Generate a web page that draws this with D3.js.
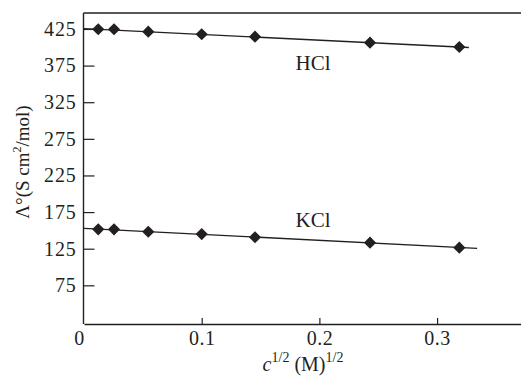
<!DOCTYPE html>
<html>
<head>
<meta charset="utf-8">
<script src="https://cdn.jsdelivr.net/npm/d3@7"></script>
<style>
	html, body { margin: 0; padding: 0; background: #fff; }
	svg { display: block; }
	text { font-family: "Liberation Serif", "Times New Roman", serif; fill: #231f20; }
</style>
</head>
<body>
<svg id="chart" width="521" height="378"></svg>
<script>
// square root of concentration, (M)^1/2
var aSqrtC = [0.0121, 0.0255, 0.0546, 0.1, 0.1453, 0.243, 0.3189];
// molar conductivity, S cm2/mol
var aHCl = [424.6, 424.6, 421.3, 417.8, 414.5, 406.3, 400.4];
var aKCl = [151.5, 151.5, 148.2, 145.0, 140.6, 133.2, 126.4];

// straight lines drawn through each series
var aHClFitX = [0, 0.327], aHClFitY = [425.5, 399.6];
var aKClFitX = [0, 0.334], aKClFitY = [152.8, 125.5];

var aXTicks = [0, 0.1, 0.2, 0.3];
var aYTicks = [75, 125, 175, 225, 275, 325, 375, 425];

var sInk = "#231f20";

var $svg = d3.select("#chart");

var x = d3.scaleLinear().domain([0, 0.3713]).range([84, 521]);
var y = d3.scaleLinear().domain([22.2, 446.8]).range([324, 13]);

// frame: left axis, top line, bottom axis (no right edge)
$svg.append("line")
	.attr("x1", 83.5).attr("x2", 521).attr("y1", 13).attr("y2", 13)
	.attr("stroke", sInk).attr("stroke-width", 1.4);

var $xAxis = $svg.append("g")
	.attr("transform", "translate(0,324)")
	.call(d3.axisBottom(x)
		.tickValues(aXTicks)
		.tickSizeInner(-6)
		.tickSizeOuter(0)
		.tickPadding(7)
		.tickFormat(function (d) { return d === 0 ? "0" : d3.format(".1f")(d); }));
$xAxis.select(".domain").attr("stroke", sInk).attr("stroke-width", 1.4);
$xAxis.selectAll(".tick line").attr("stroke", sInk).attr("stroke-width", 1.2)
	.filter(function (d) { return d === 0; }).remove();
$xAxis.selectAll(".tick text")
	.attr("font-size", 20).attr("font-family", null).attr("fill", sInk)
	.attr("letter-spacing", 0.5)
	.attr("dx", function (d) { return d === 0 ? -5 : 0; });

var $yAxis = $svg.append("g")
	.attr("transform", "translate(83.5,0)")
	.call(d3.axisLeft(y)
		.tickValues(aYTicks)
		.tickSizeInner(-11)
		.tickSizeOuter(0)
		.tickPadding(7));
$yAxis.select(".domain").attr("stroke", sInk).attr("stroke-width", 1.4)
	.attr("d", "M0,13V324");
$yAxis.selectAll(".tick line").attr("stroke", sInk).attr("stroke-width", 1.2);
$yAxis.selectAll(".tick text")
	.attr("font-size", 20).attr("font-family", null).attr("fill", sInk)
	.attr("letter-spacing", 0.8);

// fit lines
var fnLine = d3.line()
	.x(function (d) { return x(d[0]); })
	.y(function (d) { return y(d[1]); });

[[aHClFitX, aHClFitY], [aKClFitX, aKClFitY]].forEach(function (aFit) {
	$svg.append("path")
		.datum(d3.zip(aFit[0], aFit[1]))
		.attr("d", fnLine)
		.attr("fill", "none")
		.attr("stroke", sInk)
		.attr("stroke-width", 1.4);
});

// diamond markers
var sDiamond = d3.symbol().type(d3.symbolSquare).size(74)();

[aHCl, aKCl].forEach(function (aSeries) {
	$svg.append("g").selectAll("path")
		.data(d3.zip(aSqrtC, aSeries))
		.enter().append("path")
		.attr("d", sDiamond)
		.attr("fill", sInk)
		.attr("transform", function (d) {
			return "translate(" + x(d[0]) + "," + y(d[1]) + ") rotate(45)";
		});
});

// series labels
$svg.append("text").attr("x", 313).attr("y", 70)
	.attr("text-anchor", "middle").attr("font-size", 21).text("HCl");
$svg.append("text").attr("x", 313).attr("y", 227)
	.attr("text-anchor", "middle").attr("font-size", 21).text("KCl");

// x title
var $xTitle = $svg.append("text")
	.attr("x", 303).attr("y", 371)
	.attr("text-anchor", "middle").attr("font-size", 20);
$xTitle.append("tspan").attr("font-style", "italic").text("c");
$xTitle.append("tspan").attr("font-size", 14).attr("dy", -9).text("1/2");
$xTitle.append("tspan").attr("dy", 9).text(" (M)");
$xTitle.append("tspan").attr("font-size", 14).attr("dy", -9).text("1/2");

// y title
var $yTitle = $svg.append("text")
	.attr("transform", "translate(29,162) rotate(-90)")
	.attr("text-anchor", "middle").attr("font-size", 19);
$yTitle.append("tspan").text("\u039B\u00B0(S cm");
$yTitle.append("tspan").attr("font-size", 12).attr("dy", -8).text("2");
$yTitle.append("tspan").attr("dy", 8).text("/mol)");
</script>
</body>
</html>
